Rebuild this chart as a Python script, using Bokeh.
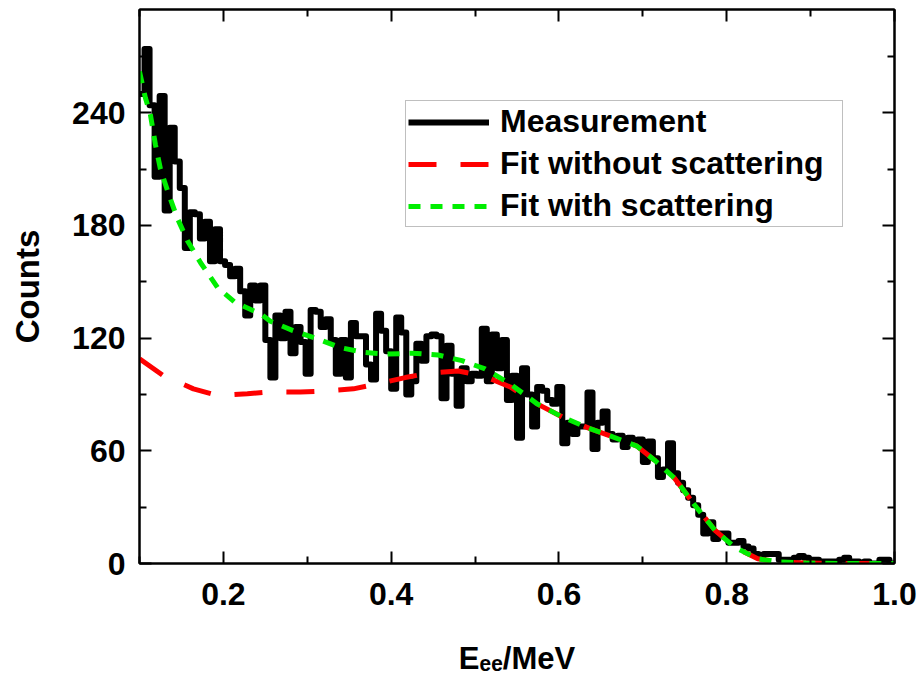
import numpy as np
from bokeh.plotting import figure
from bokeh.models import (Range1d, FixedTicker, LinearAxis, Legend, LegendItem,
                          CustomJSTickFormatter)
from bokeh.embed import file_html
from bokeh.resources import INLINE

# ---------------- data ----------------
bin_start = 0.1
bin_width = 0.006
measured_counts = [
    250, 274, 244, 206, 249, 188, 232, 214, 200, 168,
    187, 186, 173, 182, 161, 178, 161, 159, 153, 157,
    145, 132, 148, 140, 148, 119, 99, 132, 120, 134,
    112, 126, 118, 101, 135, 134, 126, 130, 119, 101,
    119, 99, 128, 121, 121, 106, 98, 133, 124, 113,
    93, 131, 123, 90, 97, 117, 108, 121, 122, 121,
    88, 116, 101, 84, 104, 97, 101, 100, 125, 97,
    122, 104, 119, 87, 100, 67, 104, 90, 73, 94,
    92, 87, 85, 94, 64, 75, 69, 73, 73, 91,
    61, 75, 81, 69, 66, 68, 62, 67, 64, 66,
    54, 65, 56, 46, 50, 64, 48, 43, 39, 35,
    31, 26, 16, 22, 13, 16, 16, 11, 11, 12,
    9, 8, 5, 4, 5, 5, 5, 2, 2, 2,
    3, 4, 3, 2, 2, 1, 1, 1, 1, 2,
    3, 1, 1, 0, 1, 0, 0, 2, 2, 0,
]

fit_scatter_x = [0.100, 0.107, 0.113, 0.119, 0.125, 0.1345, 0.145, 0.157, 0.173,
                 0.193, 0.214, 0.244, 0.256, 0.283, 0.312, 0.339, 0.367, 0.395,
                 0.425, 0.456, 0.4845, 0.512, 0.542, 0.574, 0.605, 0.637, 0.661,
                 0.693, 0.714, 0.738, 0.762, 0.786, 0.8095, 0.837, 0.863, 0.899,
                 0.946, 1.000]
fit_scatter_y = [262, 248, 239, 223, 210, 197, 184, 172, 160,
                 147, 139, 133, 129, 124, 119.6, 115, 112.4, 111.5,
                 112, 111, 108, 103.6, 95.6, 85, 77.8, 71.8, 68,
                 62.5, 55, 45.3, 31, 17.7, 8.7, 2.5, 0.8, 0.2,
                 0, 0]

fit_noscatter_x = [0.100, 0.1286, 0.1643, 0.193, 0.2286, 0.256, 0.2917, 0.319,
                   0.355, 0.383, 0.4167, 0.4464, 0.480, 0.5095, 0.542, 0.574,
                   0.605, 0.637, 0.661, 0.693, 0.714, 0.738, 0.762, 0.786,
                   0.8095, 0.837, 0.863, 0.899, 0.946, 1.000]
fit_noscatter_y = [109, 100, 93, 89.5, 90.4, 91.4, 91.3, 91.8,
                   93, 95.6, 99, 101.5, 102.5, 100, 94, 85,
                   77.8, 71.8, 68, 62.5, 55, 45.3, 31, 17.7,
                   8.7, 2.5, 0.8, 0.2, 0, 0]

x_major = [0.2, 0.4, 0.6, 0.8, 1.0]
x_minor = [0.1, 0.3, 0.5, 0.7, 0.9]
x_labels = ["0.2", "0.4", "0.6", "0.8", "1.0"]
y_major = [0, 60, 120, 180, 240]
y_minor = [30, 90, 150, 210, 270]
y_labels = ["0", "60", "120", "180", "240"]

series_names = ["Measurement", "Fit without scattering", "Fit with scattering"]
x_title = "E\u2091\u2091/MeV"
y_title = "Counts"

# ---------------- figure ----------------
FONT = "Liberation Sans"

p = figure(width=920, height=680, x_range=Range1d(0.1, 1.0), y_range=Range1d(0, 295),
           output_backend="svg", toolbar_location=None,
           min_border_left=139, min_border_right=26, min_border_top=9,
           min_border_bottom=117)
p.background_fill_color = "white"
p.border_fill_color = "white"
p.grid.visible = False
p.outline_line_color = "black"
p.outline_line_width = 2

edges = bin_start + bin_width * np.arange(len(measured_counts) + 1)
step_y = list(measured_counts) + [measured_counts[-1]]
r_meas = p.step(edges, step_y, mode="after", line_color="black", line_width=6,
                line_join="round")
r_red = p.line(fit_noscatter_x, fit_noscatter_y, line_color="#ff0000", line_width=5,
               line_dash="28 24")
r_green = p.line(fit_scatter_x, fit_scatter_y, line_color="#00ee00", line_width=5,
                 line_dash="12 10")


def style_axis(ax, ticks, minor, labels, show_labels):
    ax.ticker = FixedTicker(ticks=ticks, minor_ticks=minor)
    ax.axis_line_width = 2
    ax.axis_line_color = "black"
    ax.major_tick_in = 12
    ax.major_tick_out = 0
    ax.minor_tick_in = 7
    ax.minor_tick_out = 0
    ax.major_tick_line_width = 2
    ax.minor_tick_line_width = 2
    ax.major_tick_line_color = "black"
    ax.minor_tick_line_color = "black"
    if show_labels:
        ax.major_label_overrides = {t: l for t, l in zip(ticks, labels)}
        ax.major_label_text_font = FONT
        ax.major_label_text_font_style = "bold"
        ax.major_label_text_font_size = "32px"
        ax.major_label_text_color = "black"
        ax.axis_label_text_font = FONT
        ax.axis_label_text_font_style = "bold"
        ax.axis_label_text_color = "black"
    else:
        ax.formatter = CustomJSTickFormatter(code="return ''")
        ax.major_label_standoff = 0
        ax.major_label_text_font_size = "1px"


xa = p.xaxis[0]
style_axis(xa, x_major, x_minor, x_labels, True)
xa.major_label_standoff = 19
xa.axis_label = x_title
xa.axis_label_text_font_size = "31px"
xa.axis_label_standoff = 33

ya = p.yaxis[0]
style_axis(ya, y_major, y_minor, y_labels, True)
ya.major_label_standoff = 14
ya.axis_label = y_title
ya.axis_label_text_font_size = "33px"
ya.axis_label_standoff = 23

top_ax = LinearAxis()
style_axis(top_ax, x_major, x_minor, x_labels, False)
p.add_layout(top_ax, "above")
right_ax = LinearAxis()
style_axis(right_ax, y_major, y_minor, y_labels, False)
p.add_layout(right_ax, "right")

# ---------------- legend ----------------
legend = Legend(
    items=[LegendItem(label=series_names[0], renderers=[r_meas]),
           LegendItem(label=series_names[1], renderers=[r_red]),
           LegendItem(label=series_names[2], renderers=[r_green])],
    location=(266, 336),
    border_line_color="#808080", border_line_width=1,
    background_fill_color="white", background_fill_alpha=1,
    label_text_font=FONT, label_text_font_style="bold", label_text_font_size="32px",
    label_text_color="black",
    glyph_width=81, glyph_height=36, label_height=36, label_width=340,
    label_standoff=11, spacing=5, padding=2, margin=0)
p.add_layout(legend)

open("out.html", "w").write(file_html(p, INLINE))
